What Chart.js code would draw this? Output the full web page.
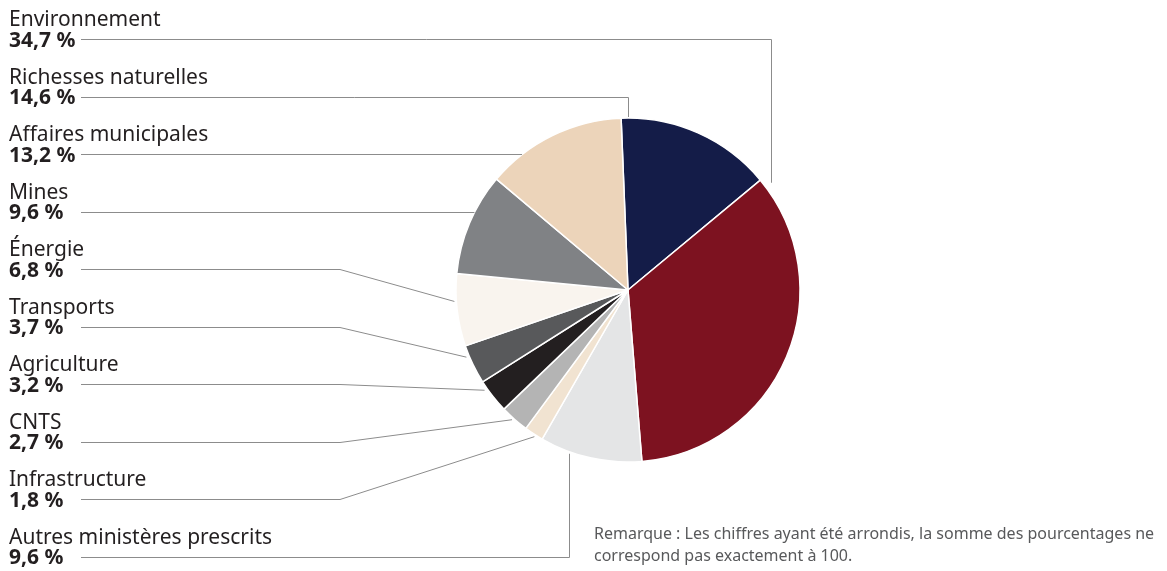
<!DOCTYPE html>
<html lang="fr">
<head>
<meta charset="utf-8">
<script src="https://cdn.jsdelivr.net/npm/chart.js@4/dist/chart.umd.min.js"></script>
<style>
  body { margin: 0; background: #fff; }
  #wrap { width: 1167px; height: 571px; position: relative; }
</style>
</head>
<body>
<div id="wrap"><canvas id="pieChart" width="1167" height="571"></canvas></div>
<script>
// data, in clockwise order from the top of the pie
const categories = ['Richesses naturelles', 'Environnement', 'Autres ministères prescrits', 'Infrastructure', 'CNTS', 'Agriculture', 'Transports', 'Énergie', 'Mines', 'Affaires municipales'];
const shares = [14.6, 34.7, 9.6, 1.8, 2.7, 3.2, 3.7, 6.8, 9.6, 13.2];
const sliceColors = ['#141c48', '#7d1220', '#e4e5e6', '#f1e3d1', '#b4b4b4', '#231f20', '#58595b', '#f9f4ee', '#808285', '#ecd4ba'];

// order of the labels on the left, top to bottom
const labelOrder = ['Environnement', 'Richesses naturelles', 'Affaires municipales', 'Mines', 'Énergie', 'Transports', 'Agriculture', 'CNTS', 'Infrastructure', 'Autres ministères prescrits'];

// leader line style per label: v = vertical drop, h = straight across, d = elbow then diagonal
// t = where along the slice the line ends, ext = gap past the rim
const leaders = {
  'Environnement': { mode: 'v', t: 0.023, ext: 7 },
  'Richesses naturelles': { mode: 'v', t: 0.044, ext: 1 },
  'Affaires municipales': { mode: 'h' },
  'Mines': { mode: 'h' },
  'Énergie': { mode: 'd', t: 0.62, ext: 2 },
  'Transports': { mode: 'd', t: 0.73, ext: 3 },
  'Agriculture': { mode: 'd', t: 0.77, ext: 3 },
  'CNTS': { mode: 'd', t: 0.55, ext: 2 },
  'Infrastructure': { mode: 'd', t: 0.4, ext: 2 },
  'Autres ministères prescrits': { mode: 'v', t: 0.705, ext: 2 }
};

const fmt = (v) => v.toFixed(1).replace('.', ',') + ' %';

const sideLabels = {
  id: 'sideLabels',
  afterDraw(chart) {
    const c = chart.ctx;
    const arcs = chart.getDatasetMeta(0).data;
    c.save();
    labelOrder.forEach((name, i) => {
      const idx = categories.indexOf(name);
      const arc = arcs[idx];
      const top = 26 + 57.5 * i;
      c.fillStyle = '#231f20';
      c.textBaseline = 'alphabetic';
      c.font = '21px "Noto Sans"';
      c.fillText(name, 9, top);
      c.font = 'bold 21px "Noto Sans"';
      c.fillText(fmt(shares[idx]), 9, top + 20.5);

      const ly = Math.round(39 + 57.5 * i) + 0.5;
      const L = leaders[name];
      const cx = arc.x, cy = arc.y, r = arc.outerRadius;
      c.strokeStyle = '#8c8c8c';
      c.lineWidth = 1;
      c.beginPath();
      c.moveTo(81, ly);
      if (L.mode === 'h') {
        const dy = ly - cy;
        c.lineTo(cx - Math.sqrt(r * r - dy * dy), ly);
      } else {
        const a = arc.startAngle + (arc.endAngle - arc.startAngle) * L.t;
        const ex = cx + (r + L.ext) * Math.cos(a);
        const ey = cy + (r + L.ext) * Math.sin(a);
        if (L.mode === 'v') {
          const vx = Math.round(ex) + 0.5;
          c.lineTo(vx, ly);
          c.lineTo(vx, ey);
        } else {
          c.lineTo(340, ly);
          c.lineTo(ex, ey);
        }
      }
      c.stroke();
    });

    // note
    c.fillStyle = '#58595b';
    c.font = '16px "Noto Sans"';
    c.fillText('Remarque : Les chiffres ayant été arrondis, la somme des pourcentages ne', 594, 539);
    c.fillText('correspond pas exactement à 100.', 594, 561);
    c.restore();
  }
};

new Chart(document.getElementById('pieChart'), {
  type: 'pie',
  data: {
    labels: categories,
    datasets: [{
      data: shares,
      backgroundColor: sliceColors,
      borderColor: '#ffffff',
      borderWidth: 1.5,
      radius: 172
    }]
  },
  options: {
    responsive: false,
    animation: false,
    rotation: -2.3,
    layout: { padding: { left: 456, right: 367, top: 118, bottom: 109 } },
    plugins: {
      legend: { display: false },
      tooltip: { enabled: false }
    }
  },
  plugins: [sideLabels]
});
</script>
</body>
</html>
